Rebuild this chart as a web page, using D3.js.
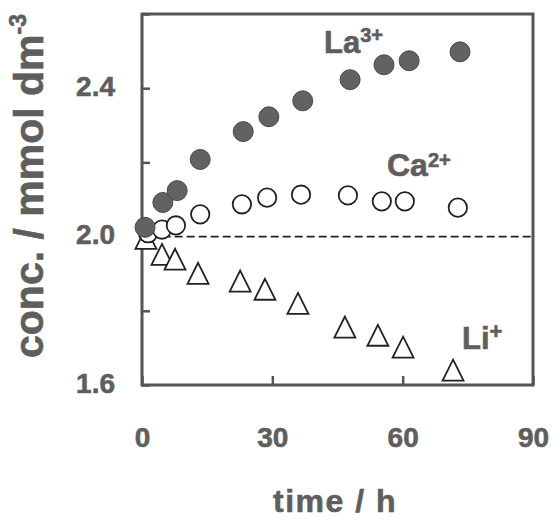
<!DOCTYPE html>
<html>
<head>
<meta charset="utf-8">
<script src="https://cdn.jsdelivr.net/npm/d3@7"></script>
<style>
  body { margin: 0; background: #fff; }
  text { font-family: "Liberation Sans", Arial, sans-serif; font-weight: bold; fill: #5e5e5e; stroke: #5e5e5e; stroke-width: 0.6px; }
</style>
</head>
<body>
<div id="container"></div>
<script>
const WIDTH = 552;
const HEIGHT = 520;

// La3+ (filled circles)
var laTime = [0.7, 4.8, 8.1, 13.4, 23.3, 29.2, 37.0, 47.9, 55.7, 61.5, 73.2];
var laConc = [2.025, 2.092, 2.124, 2.208, 2.283, 2.323, 2.366, 2.423, 2.463, 2.474, 2.498];

// Ca2+ (open circles)
var caTime = [1.4, 4.6, 7.8, 13.4, 23.0, 28.8, 36.6, 47.4, 55.2, 60.5, 72.7];
var caConc = [2.009, 2.019, 2.030, 2.060, 2.087, 2.105, 2.113, 2.111, 2.095, 2.095, 2.078];

// Li+ (open triangles)
var liTime = [0.9, 4.6, 7.6, 12.9, 22.6, 28.3, 35.9, 46.7, 54.3, 60.1, 71.6];
var liConc = [1.995, 1.952, 1.939, 1.901, 1.880, 1.858, 1.820, 1.756, 1.734, 1.702, 1.640];

var xTicks = [0, 30, 60, 90];
var yTicks = [1.6, 1.8, 2.0, 2.2, 2.4, 2.6];
var yLabels = [1.6, 2.0, 2.4];
var initialConc = 2.0;

var zip = function (ts, cs) {
    return ts.map(function (t, i) { return { t: t, c: cs[i] }; });
};

// triangle centred on its bounding box rather than its centroid
var boxTriangle = {
    draw: function (context, size) {
        var w = Math.sqrt(size * 2);
        var h = w;
        context.moveTo(0, -h / 2);
        context.lineTo(w / 2, h / 2);
        context.lineTo(-w / 2, h / 2);
        context.closePath();
    }
};

var drawChart = function () {
    var svg = d3.select("#container").append("svg")
        .attr("width", WIDTH)
        .attr("height", HEIGHT);

    var x = d3.scaleLinear().domain([0, 90]).range([142, 533]);
    var y = d3.scaleLinear().domain([1.6, 2.6]).range([385, 14]);

    // reference level of the starting concentration
    svg.append("line")
        .attr("x1", x(2)).attr("x2", x(90))
        .attr("y1", y(initialConc)).attr("y2", y(initialConc))
        .attr("stroke", "#222")
        .attr("stroke-width", 1.8)
        .attr("stroke-dasharray", "8,4");

    var xAxis = svg.append("g")
        .attr("transform", "translate(0," + y(1.6) + ")")
        .call(d3.axisBottom(x).tickValues(xTicks).tickSizeInner(-9).tickSizeOuter(0).tickPadding(42));

    var yAxis = svg.append("g")
        .attr("transform", "translate(" + x(0) + ",0)")
        .call(d3.axisLeft(y).tickValues(yTicks).tickSizeInner(-8).tickSizeOuter(0).tickPadding(27)
            .tickFormat(function (d) { return yLabels.indexOf(d) >= 0 ? d3.format(".1f")(d) : ""; }));

    [xAxis, yAxis].forEach(function (g) {
        g.select(".domain").remove();
        g.selectAll(".tick line").attr("stroke", "#555").attr("stroke-width", 2.5);
        g.selectAll(".tick text")
            .attr("fill", "#5e5e5e")
            .style("font-size", "28px")
            .style("font-family", "'Liberation Sans', Arial, sans-serif")
            .style("font-weight", "bold");
    });
    yAxis.selectAll(".tick text").attr("dy", "0.25em");

    // frame
    svg.append("rect")
        .attr("x", x(0)).attr("y", y(2.6))
        .attr("width", x(90) - x(0))
        .attr("height", y(1.6) - y(2.6))
        .attr("fill", "none")
        .attr("stroke", "#555")
        .attr("stroke-width", 3);

    var marks = svg.append("g");

    marks.selectAll(".li").data(zip(liTime, liConc)).enter().append("path")
        .attr("class", "li")
        .attr("transform", function (d) { return "translate(" + x(d.t) + "," + y(d.c) + ")"; })
        .attr("d", d3.symbol().type(boxTriangle).size(220))
        .attr("fill", "#fff")
        .attr("stroke", "#222")
        .attr("stroke-width", 1.8);

    marks.selectAll(".ca").data(zip(caTime, caConc)).enter().append("circle")
        .attr("class", "ca")
        .attr("cx", function (d) { return x(d.t); })
        .attr("cy", function (d) { return y(d.c); })
        .attr("r", 9.2)
        .attr("fill", "#fff")
        .attr("stroke", "#222")
        .attr("stroke-width", 1.8);

    marks.selectAll(".la").data(zip(laTime, laConc)).enter().append("circle")
        .attr("class", "la")
        .attr("cx", function (d) { return x(d.t); })
        .attr("cy", function (d) { return y(d.c); })
        .attr("r", 10)
        .attr("fill", "#626262")
        .attr("stroke", "#4a4a4a")
        .attr("stroke-width", 1);

    // series labels
    var ionLabel = function (px, py, base, sup, size, supSize, shift) {
        var t = svg.append("text").attr("x", px).attr("y", py).style("font-size", size + "px");
        t.append("tspan").text(base);
        t.append("tspan").attr("dy", shift).style("font-size", supSize + "px").text(sup);
    };
    ionLabel(324, 53, "La", "3+", 31, 20, -11);
    ionLabel(387, 176, "Ca", "2+", 32, 20, -9);
    ionLabel(462, 349, "Li", "+", 31, 22, -10);

    // axis titles
    svg.append("text")
        .attr("x", 335).attr("y", 512)
        .attr("text-anchor", "middle")
        .style("font-size", "32px")
        .style("letter-spacing", "1.5px")
        .text("time / h");

    var yTitle = svg.append("text")
        .attr("transform", "translate(43,358) rotate(-90)")
        .style("font-size", "41px");
    yTitle.append("tspan").text("conc. / mmol dm");
    yTitle.append("tspan").attr("dy", -17).style("font-size", "23px").text("-3");
};

window.onload = drawChart;
</script>
</body>
</html>
